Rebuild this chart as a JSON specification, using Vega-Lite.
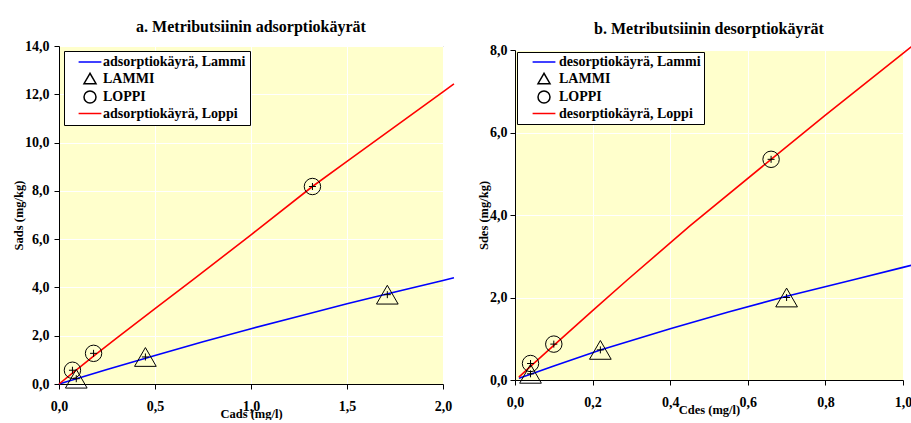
{
  "$schema": "https://vega.github.io/schema/vega-lite/v6.json",
  "padding": {"left": 12, "top": 18, "right": 0, "bottom": 0},
  "background": "white",
  "config": {
    "font": "Liberation Serif",
    "view": {"fill": "#FFFFCC", "stroke": "#808080", "strokeWidth": 1},
    "axis": {
      "labelFont": "Liberation Serif", "labelFontSize": 14, "labelFontWeight": "bold", "labelColor": "black",
      "titleFont": "Liberation Serif", "titleFontSize": 12.5, "titleFontWeight": "bold", "titleColor": "black",
      "domainColor": "black", "domainWidth": 1, "tickColor": "black", "tickSize": 5, "tickWidth": 1,
      "gridColor": "white", "gridOpacity": 1, "gridWidth": 1,
      "labelFlush": false, "labelOverlap": false
    },
    "title": {"font": "Liberation Serif", "fontSize": 16, "fontWeight": "bold", "color": "black", "anchor": "middle"},
    "legend": {
      "labelFont": "Liberation Serif", "labelFontSize": 14, "labelFontWeight": "bold", "labelColor": "black",
      "symbolSize": 144, "symbolStrokeWidth": 1.5, "rowPadding": 0.5, "labelLimit": 400,
      "strokeColor": "black", "fillColor": "white", "symbolFillColor": "transparent"
    }
  },
  "spacing": 19,
  "center": true,
  "resolve": {
    "scale": {"x": "independent", "y": "independent", "stroke": "independent", "shape": "independent"}
  },
  "hconcat": [
    {
      "title": {"text": "a. Metributsiinin adsorptiokäyrät", "offset": 4},
      "width": 384,
      "height": 338,
      "data": {"values": [
        {"kind": "line", "series": "adsorptiokäyrä, Lammi", "C": 0, "S": 0},
        {"kind": "line", "series": "adsorptiokäyrä, Lammi", "C": 0.25, "S": 0.6},
        {"kind": "line", "series": "adsorptiokäyrä, Lammi", "C": 0.5, "S": 1.18},
        {"kind": "line", "series": "adsorptiokäyrä, Lammi", "C": 0.75, "S": 1.75},
        {"kind": "line", "series": "adsorptiokäyrä, Lammi", "C": 1.0, "S": 2.29},
        {"kind": "line", "series": "adsorptiokäyrä, Lammi", "C": 1.25, "S": 2.81},
        {"kind": "line", "series": "adsorptiokäyrä, Lammi", "C": 1.5, "S": 3.32},
        {"kind": "line", "series": "adsorptiokäyrä, Lammi", "C": 1.75, "S": 3.81},
        {"kind": "line", "series": "adsorptiokäyrä, Lammi", "C": 2.0, "S": 4.29},
        {"kind": "line", "series": "adsorptiokäyrä, Lammi", "C": 2.057, "S": 4.4},
        {"kind": "line", "series": "adsorptiokäyrä, Loppi", "C": 0, "S": 0},
        {"kind": "line", "series": "adsorptiokäyrä, Loppi", "C": 0.07, "S": 0.45},
        {"kind": "line", "series": "adsorptiokäyrä, Loppi", "C": 0.18, "S": 1.15},
        {"kind": "line", "series": "adsorptiokäyrä, Loppi", "C": 0.3, "S": 1.9},
        {"kind": "line", "series": "adsorptiokäyrä, Loppi", "C": 0.5, "S": 3.12},
        {"kind": "line", "series": "adsorptiokäyrä, Loppi", "C": 0.7, "S": 4.33},
        {"kind": "line", "series": "adsorptiokäyrä, Loppi", "C": 1.0, "S": 6.18},
        {"kind": "line", "series": "adsorptiokäyrä, Loppi", "C": 1.32, "S": 8.18},
        {"kind": "line", "series": "adsorptiokäyrä, Loppi", "C": 1.5, "S": 9.22},
        {"kind": "line", "series": "adsorptiokäyrä, Loppi", "C": 1.75, "S": 10.66},
        {"kind": "line", "series": "adsorptiokäyrä, Loppi", "C": 2.0, "S": 12.1},
        {"kind": "line", "series": "adsorptiokäyrä, Loppi", "C": 2.057, "S": 12.43},
        {"kind": "point", "series": "LAMMI", "C": 0.09, "S": 0.22},
        {"kind": "point", "series": "LAMMI", "C": 0.45, "S": 1.12},
        {"kind": "point", "series": "LAMMI", "C": 1.71, "S": 3.7},
        {"kind": "point", "series": "LOPPI", "C": 0.07, "S": 0.57},
        {"kind": "point", "series": "LOPPI", "C": 0.18, "S": 1.27},
        {"kind": "point", "series": "LOPPI", "C": 1.32, "S": 8.18}
      ]},
      "encoding": {
        "x": {"field": "C", "type": "quantitative",
          "scale": {"domain": [0, 2], "nice": false, "zero": false},
          "axis": {"values": [0, 0.5, 1, 1.5, 2], "title": "Cads (mg/l)", "labelExpr": "replace(format(datum.value, '.1f'), '.', ',')", "labelPadding": 10, "titlePadding": -6, "grid": true}},
        "y": {"field": "S", "type": "quantitative",
          "scale": {"domain": [0, 14], "nice": false, "zero": false},
          "axis": {"values": [0, 2, 4, 6, 8, 10, 12, 14], "title": "Sads (mg/kg)", "labelExpr": "replace(format(datum.value, '.1f'), '.', ',')", "labelPadding": 5, "titlePadding": -1, "grid": true}}
      },
      "layer": [
        {
          "transform": [{"filter": "datum.kind === 'line'"}],
          "mark": {"type": "line", "strokeWidth": 1.6},
          "encoding": {
            "stroke": {"field": "series", "type": "nominal",
              "scale": {"domain": ["adsorptiokäyrä, Lammi", "LAMMI", "LOPPI", "adsorptiokäyrä, Loppi"], "range": ["#0000FF", "black", "black", "#FF0000"]},
              "legend": {"title": null, "orient": "top-left", "offset": 5, "padding": 4, "symbolOffset": 15, "labelOffset": 6, "labelExpr": "datum.label + '\u00a0'"}}
          }
        },
        {
          "transform": [{"filter": "datum.series === 'LAMMI'"}],
          "mark": {"type": "point", "filled": false, "size": 470, "strokeWidth": 1, "opacity": 1},
          "encoding": {
            "stroke": {"field": "series", "type": "nominal",
              "scale": {"domain": ["adsorptiokäyrä, Lammi", "LAMMI", "LOPPI", "adsorptiokäyrä, Loppi"], "range": ["#0000FF", "black", "black", "#FF0000"]},
              "legend": {"title": null, "orient": "top-left", "offset": 5, "padding": 4, "symbolOffset": 15, "labelOffset": 6, "labelExpr": "datum.label + '\u00a0'"}},
            "shape": {"field": "series", "type": "nominal",
              "scale": {"domain": ["adsorptiokäyrä, Lammi", "LAMMI", "LOPPI", "adsorptiokäyrä, Loppi"], "range": ["M-1.9,0H1.9", "triangle-up", "circle", "M-1.9,0H1.9"]},
              "legend": {"title": null, "orient": "top-left", "offset": 5, "padding": 4, "symbolOffset": 15, "labelOffset": 6, "labelExpr": "datum.label + '\u00a0'"}}
          }
        },
        {
          "transform": [{"filter": "datum.series === 'LOPPI'"}],
          "mark": {"type": "point", "filled": false, "size": 270, "strokeWidth": 1, "opacity": 1},
          "encoding": {
            "stroke": {"field": "series", "type": "nominal",
              "scale": {"domain": ["adsorptiokäyrä, Lammi", "LAMMI", "LOPPI", "adsorptiokäyrä, Loppi"], "range": ["#0000FF", "black", "black", "#FF0000"]}},
            "shape": {"field": "series", "type": "nominal",
              "scale": {"domain": ["adsorptiokäyrä, Lammi", "LAMMI", "LOPPI", "adsorptiokäyrä, Loppi"], "range": ["M-1.9,0H1.9", "triangle-up", "circle", "M-1.9,0H1.9"]}}
          }
        },
        {
          "transform": [{"filter": "datum.kind === 'point'"}],
          "mark": {"type": "point", "shape": "M-1,0H1M0,-1V1", "size": 49, "filled": false, "stroke": "black", "strokeWidth": 1, "opacity": 1}
        }
      ]
    },
    {
      "title": {"text": "b. Metributsiinin desorptiokäyrät", "offset": 4},
      "width": 388,
      "height": 330,
      "data": {"values": [
        {"kind": "line", "series": "desorptiokäyrä, Lammi", "C": 0.01, "S": 0.04},
        {"kind": "line", "series": "desorptiokäyrä, Lammi", "C": 0.04, "S": 0.14},
        {"kind": "line", "series": "desorptiokäyrä, Lammi", "C": 0.1, "S": 0.34},
        {"kind": "line", "series": "desorptiokäyrä, Lammi", "C": 0.22, "S": 0.73},
        {"kind": "line", "series": "desorptiokäyrä, Lammi", "C": 0.4, "S": 1.24},
        {"kind": "line", "series": "desorptiokäyrä, Lammi", "C": 0.55, "S": 1.65},
        {"kind": "line", "series": "desorptiokäyrä, Lammi", "C": 0.7, "S": 2.03},
        {"kind": "line", "series": "desorptiokäyrä, Lammi", "C": 0.88, "S": 2.45},
        {"kind": "line", "series": "desorptiokäyrä, Lammi", "C": 1.0, "S": 2.73},
        {"kind": "line", "series": "desorptiokäyrä, Lammi", "C": 1.03, "S": 2.8},
        {"kind": "line", "series": "desorptiokäyrä, Loppi", "C": 0.01, "S": 0.07},
        {"kind": "line", "series": "desorptiokäyrä, Loppi", "C": 0.04, "S": 0.33},
        {"kind": "line", "series": "desorptiokäyrä, Loppi", "C": 0.1, "S": 0.84},
        {"kind": "line", "series": "desorptiokäyrä, Loppi", "C": 0.2, "S": 1.68},
        {"kind": "line", "series": "desorptiokäyrä, Loppi", "C": 0.29, "S": 2.43},
        {"kind": "line", "series": "desorptiokäyrä, Loppi", "C": 0.45, "S": 3.73},
        {"kind": "line", "series": "desorptiokäyrä, Loppi", "C": 0.66, "S": 5.35},
        {"kind": "line", "series": "desorptiokäyrä, Loppi", "C": 0.8, "S": 6.42},
        {"kind": "line", "series": "desorptiokäyrä, Loppi", "C": 1.0, "S": 7.92},
        {"kind": "line", "series": "desorptiokäyrä, Loppi", "C": 1.03, "S": 8.14},
        {"kind": "point", "series": "LAMMI", "C": 0.04, "S": 0.15},
        {"kind": "point", "series": "LAMMI", "C": 0.22, "S": 0.73},
        {"kind": "point", "series": "LAMMI", "C": 0.7, "S": 2.0},
        {"kind": "point", "series": "LOPPI", "C": 0.04, "S": 0.4},
        {"kind": "point", "series": "LOPPI", "C": 0.1, "S": 0.87},
        {"kind": "point", "series": "LOPPI", "C": 0.66, "S": 5.35}
      ]},
      "encoding": {
        "x": {"field": "C", "type": "quantitative",
          "scale": {"domain": [0, 1], "nice": false, "zero": false},
          "axis": {"values": [0, 0.2, 0.4, 0.6, 0.8, 1], "title": "Cdes (mg/l)", "labelExpr": "replace(format(datum.value, '.1f'), '.', ',')", "labelPadding": 10, "titlePadding": -6, "grid": true}},
        "y": {"field": "S", "type": "quantitative",
          "scale": {"domain": [0, 8], "nice": false, "zero": false},
          "axis": {"values": [0, 2, 4, 6, 8], "title": "Sdes (mg/kg)", "labelExpr": "replace(format(datum.value, '.1f'), '.', ',')", "labelPadding": 3, "titlePadding": -1, "grid": true}}
      },
      "layer": [
        {
          "transform": [{"filter": "datum.kind === 'line'"}],
          "mark": {"type": "line", "strokeWidth": 1.6},
          "encoding": {
            "stroke": {"field": "series", "type": "nominal",
              "scale": {"domain": ["desorptiokäyrä, Lammi", "LAMMI", "LOPPI", "desorptiokäyrä, Loppi"], "range": ["#0000FF", "black", "black", "#FF0000"]},
              "legend": {"title": null, "orient": "top-left", "offset": 2, "padding": 3, "symbolOffset": 17, "labelOffset": 8, "labelExpr": "datum.label + '\u00a0\u00a0'"}}
          }
        },
        {
          "transform": [{"filter": "datum.series === 'LAMMI'"}],
          "mark": {"type": "point", "filled": false, "size": 470, "strokeWidth": 1, "opacity": 1},
          "encoding": {
            "stroke": {"field": "series", "type": "nominal",
              "scale": {"domain": ["desorptiokäyrä, Lammi", "LAMMI", "LOPPI", "desorptiokäyrä, Loppi"], "range": ["#0000FF", "black", "black", "#FF0000"]},
              "legend": {"title": null, "orient": "top-left", "offset": 2, "padding": 3, "symbolOffset": 17, "labelOffset": 8, "labelExpr": "datum.label + '\u00a0\u00a0'"}},
            "shape": {"field": "series", "type": "nominal",
              "scale": {"domain": ["desorptiokäyrä, Lammi", "LAMMI", "LOPPI", "desorptiokäyrä, Loppi"], "range": ["M-1.9,0H1.9", "triangle-up", "circle", "M-1.9,0H1.9"]},
              "legend": {"title": null, "orient": "top-left", "offset": 2, "padding": 3, "symbolOffset": 17, "labelOffset": 8, "labelExpr": "datum.label + '\u00a0\u00a0'"}}
          }
        },
        {
          "transform": [{"filter": "datum.series === 'LOPPI'"}],
          "mark": {"type": "point", "filled": false, "size": 270, "strokeWidth": 1, "opacity": 1},
          "encoding": {
            "stroke": {"field": "series", "type": "nominal",
              "scale": {"domain": ["desorptiokäyrä, Lammi", "LAMMI", "LOPPI", "desorptiokäyrä, Loppi"], "range": ["#0000FF", "black", "black", "#FF0000"]}},
            "shape": {"field": "series", "type": "nominal",
              "scale": {"domain": ["desorptiokäyrä, Lammi", "LAMMI", "LOPPI", "desorptiokäyrä, Loppi"], "range": ["M-1.9,0H1.9", "triangle-up", "circle", "M-1.9,0H1.9"]}}
          }
        },
        {
          "transform": [{"filter": "datum.kind === 'point'"}],
          "mark": {"type": "point", "shape": "M-1,0H1M0,-1V1", "size": 49, "filled": false, "stroke": "black", "strokeWidth": 1, "opacity": 1}
        }
      ]
    }
  ]
}
